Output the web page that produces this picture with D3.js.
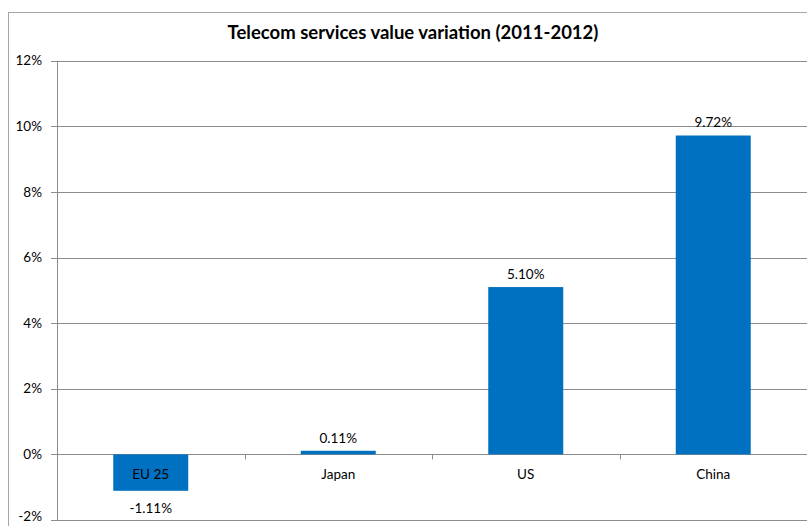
<!DOCTYPE html>
<html><head><meta charset="utf-8">
<script src="https://cdn.jsdelivr.net/npm/d3@7"></script>
<style>body{margin:0;background:#fff}svg{display:block}text{font-family:Lato,"Open Sans",sans-serif;fill:#000}</style>
</head><body><svg width="807" height="526"></svg>
<script>
const categories = ["EU 25","Japan","US","China"];
const values = [-1.11, 0.11, 5.10, 9.72];
const valueLabels = ["-1.11%","0.11%","5.10%","9.72%"];
const yTicks = [-2,0,2,4,6,8,10,12];
const title = "Telecom services value variation (2011-2012)";

const svg = d3.select("svg");
const pL = 57, pR = 807, pT = 60.7, pB = 520;
// chart border
svg.append("rect").attr("x",8.5).attr("y",12.5).attr("width",820).attr("height",540)
  .attr("fill","none").attr("stroke","#a6a6a6").attr("stroke-width",1);
const x = d3.scaleBand().domain(categories).range([pL,pR]).paddingInner(0.6).paddingOuter(0.3);
const y = d3.scaleLinear().domain([-2,12]).range([pB,pT]);

// gridlines
svg.append("g").selectAll("line").data(yTicks).join("line")
  .attr("x1",pL-6).attr("x2",pR).attr("y1",d=>Math.round(y(d))+0.5).attr("y2",d=>Math.round(y(d))+0.5)
  .attr("stroke","#8c8c8c").attr("stroke-width",1);
// y axis line
svg.append("line").attr("x1",pL+0.5).attr("x2",pL+0.5).attr("y1",pT).attr("y2",pB)
  .attr("stroke","#8c8c8c");
// y tick labels
svg.append("g").selectAll("text").data(yTicks).join("text")
  .attr("x",pL-15).attr("y",d=>Math.min(y(d),516)).attr("dy","0.35em").attr("text-anchor","end")
  .attr("font-size",13.5).text(d=>d+"%");
// category ticks at band boundaries
const step = x.step();
const bounds = categories.map((c,i)=>pL+i*step);
svg.append("g").selectAll("line").data(bounds).join("line")
  .attr("x1",d=>Math.round(d)+0.5).attr("x2",d=>Math.round(d)+0.5).attr("y1",y(0)).attr("y2",y(0)+5)
  .attr("stroke","#8c8c8c");
// bars
svg.append("g").selectAll("rect").data(values).join("rect")
  .attr("x",(d,i)=>x(categories[i])).attr("width",x.bandwidth())
  .attr("y",d=>y(Math.max(0,d))).attr("height",d=>Math.abs(y(d)-y(0)))
  .attr("fill","#0070c0");
// category labels
svg.append("g").selectAll("text").data(categories).join("text")
  .attr("x",d=>x(d)+x.bandwidth()/2).attr("y",y(0)+20).attr("dy","0.35em")
  .attr("text-anchor","middle").attr("font-size",13.5).text(d=>d);
// value labels
svg.append("g").selectAll("text").data(values).join("text")
  .attr("x",(d,i)=>x(categories[i])+x.bandwidth()/2)
  .attr("y",d=> d>=0 ? y(d)-13 : y(d)+17).attr("dy","0.35em")
  .attr("text-anchor","middle").attr("font-size",13.5).text((d,i)=>valueLabels[i]);
// title
svg.append("text").attr("x",413).attr("y",33).attr("dy","0.35em").attr("text-anchor","middle")
  .attr("font-size",18.5).attr("font-weight","bold").text(title);
</script></body></html>
